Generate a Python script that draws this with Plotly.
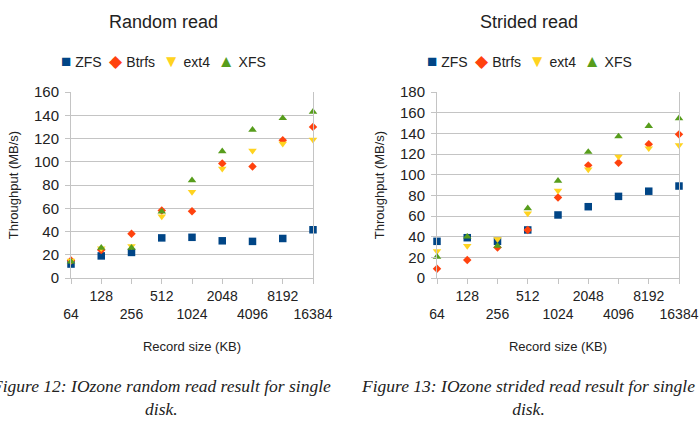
import plotly.graph_objects as go

# ---- data ----
record_sizes = ["64", "128", "256", "512", "1024", "2048", "4096", "8192", "16384"]
series_names = ["ZFS", "Btrfs", "ext4", "XFS"]

random_zfs = [12, 19, 22, 34.5, 35, 32, 31.5, 34, 41.5]
random_btrfs = [15, 24, 38, 58, 57.5, 98.5, 96, 118.5, 130]
random_ext4 = [15, 25.5, 27.5, 53, 74, 94, 109.5, 115.5, 119]
random_xfs = [14, 26, 26, 57, 84, 109, 127.5, 137.5, 143]

strided_zfs = [35.5, 39, 35.5, 46.5, 61, 69, 79, 84, 89]
strided_btrfs = [9, 17.5, 29.5, 46.5, 78, 109, 111.5, 129.5, 139]
strided_ext4 = [26, 31, 37.5, 62.5, 84.5, 105, 117.5, 125.5, 128.5]
strided_xfs = [20.5, 40, 31, 67.5, 94, 122, 137, 147, 154.5]

colors = ["#004586", "#ff420e", "#ffd320", "#579d1c"]
symbols = ["square", "diamond", "triangle-down", "triangle-up"]
sizes = [7.5, 6.5, 7.5, 7.5]
legend_glyphs = ["\u25A0", "\u25C6", "\u25BC", "\u25B2"]

W, H = 700, 426

def px(x):
    return x / W

def py(y):
    return 1 - y / H

fig = go.Figure()

panels = [
    dict(xa="x", ya="y", data=[random_zfs, random_btrfs, random_ext4, random_xfs]),
    dict(xa="x2", ya="y2", data=[strided_zfs, strided_btrfs, strided_ext4, strided_xfs]),
]
for p in panels:
    for name, vals, c, s, sz in zip(series_names, p["data"], colors, symbols, sizes):
        fig.add_trace(go.Scatter(
            x=record_sizes, y=vals, name=name, mode="markers",
            xaxis=p["xa"], yaxis=p["ya"], cliponaxis=False, showlegend=False,
            marker=dict(symbol=s, color=c, size=sz, line=dict(width=0)),
        ))

ticktext = [c if i % 2 else "<br>" + c for i, c in enumerate(record_sizes)]
grid = "#c4c4c4"
font = "Liberation Sans, Arial, sans-serif"

def xaxis(domain, anchor):
    return dict(
        domain=domain, anchor=anchor, type="category", range=[0, len(record_sizes) - 1],
        tickmode="array", tickvals=record_sizes, ticktext=ticktext, tickangle=0,
        ticks="outside", ticklen=5, tickcolor=grid, tickwidth=1, automargin=False,
        showline=True, linecolor=grid, linewidth=1, showgrid=False, zeroline=False,
        tickfont=dict(family=font, size=14, color="#222"),
        title=dict(text="Record size (KB)", font=dict(family=font, size=13, color="#222"), standoff=20),
    )

def yaxis(domain, anchor, rng, dtick):
    return dict(
        domain=domain, anchor=anchor, range=rng, dtick=dtick, automargin=False,
        ticks="outside", ticklen=5, tickcolor=grid, tickwidth=1,
        showline=True, mirror=True, linecolor=grid, linewidth=1,
        showgrid=True, gridcolor=grid, gridwidth=1, zeroline=False,
        ticklabelstandoff=3,
        tickfont=dict(family=font, size=15, color="#222"),
        title=dict(text="Throughput (MB/s)", font=dict(family=font, size=13, color="#222"), standoff=12),
    )

ydom = [py(278), py(92)]
fig.update_layout(
    width=W, height=H, margin=dict(l=0, r=0, t=0, b=0, autoexpand=False),
    paper_bgcolor="white", plot_bgcolor="white", showlegend=False,
    xaxis=xaxis([px(71), px(313)], "y"),
    yaxis=yaxis(ydom, "x", [0, 160], 20),
    xaxis2=xaxis([px(437), px(679)], "y2"),
    yaxis2=yaxis(ydom, "x2", [0, 180], 20),
)

def legend_text():
    parts = []
    for g, c, n in zip(legend_glyphs, colors, series_names):
        parts.append('<span style="color:%s;font-size:17px">%s</span> %s' % (c, g, n))
    return "  ".join(parts)

ann = []
for cx, title in [(163, "Random read"), (529, "Strided read")]:
    ann.append(dict(x=px(cx), y=py(22), xref="paper", yref="paper", text=title, showarrow=False,
                    xanchor="center", yanchor="middle", font=dict(family=font, size=18, color="#222")))
    ann.append(dict(x=px(cx), y=py(62), xref="paper", yref="paper", text=legend_text(), showarrow=False,
                    xanchor="center", yanchor="middle", font=dict(family=font, size=14, color="#222")))

for cx, cap in [(161, "Figure 12: IOzone random read result for single<br>disk."),
                (528, "Figure 13: IOzone strided read result for single<br>disk.")]:
    ann.append(dict(x=px(cx), y=py(397), xref="paper", yref="paper", text="<i>" + cap + "</i>",
                    showarrow=False, xanchor="center", yanchor="middle",
                    font=dict(family="Liberation Serif, Times New Roman, serif", size=17.5, color="#222")))

fig.update_layout(annotations=ann)
fig.write_html("out.html")
